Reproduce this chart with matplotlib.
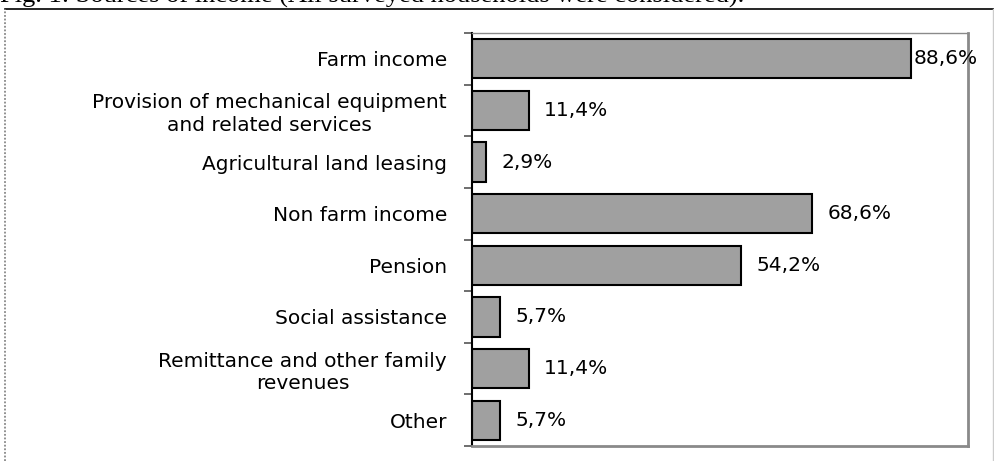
import matplotlib.pyplot as plt
import numpy as np
from matplotlib.lines import Line2D

categories = [
    "Farm income",
    "Provision of mechanical equipment\nand related services",
    "Agricultural land leasing",
    "Non farm income",
    "Pension",
    "Social assistance",
    "Remittance and other family\nrevenues",
    "Other",
]
shares = [88.6, 11.4, 2.9, 68.6, 54.2, 5.7, 11.4, 5.7]
caption = "Fig. 1: Sources of income (All surveyed households were considered)."

W, H = 995, 461
fig = plt.figure(figsize=(W / 100, H / 100), dpi=100)
fig.patch.set_facecolor("white")

# outer chart frame (top solid, left dotted, right faint)
fig.add_artist(Line2D([5 / W, 1], [1 - 9.5 / H] * 2, color="black", lw=1.2))
fig.add_artist(Line2D([5 / W] * 2, [0, 1 - 9.5 / H], color="#888888", lw=1.3, ls=(0, (1, 1))))
fig.add_artist(Line2D([993.5 / W] * 2, [0, 1 - 9.5 / H], color="#cccccc", lw=1))

fig.text(0, 1 - 3 / H, caption, family="Liberation Serif", fontsize=19,
         ha="left", va="baseline")

ax = fig.add_axes([472 / W, 15 / H, 496 / W, 413 / H])
y = np.arange(len(categories))
ax.barh(y, shares, height=0.76, color="#a0a0a0", edgecolor="black", linewidth=1.5)
ax.set_xlim(0, 100)
ax.set_ylim(len(categories) - 0.5, -0.5)

for yi, v in zip(y, shares):
    pad = 1.5 if v > 80 else 11
    ax.annotate(f"{v:.1f}%".replace(".", ","), (v, yi), xytext=(pad, 0),
                textcoords="offset points", va="center", ha="left",
                fontsize=14.5, family="DejaVu Sans", clip_on=False)

ax.set_xticks([])
ax.set_yticks(y)
ax.set_yticklabels(categories, fontsize=14.5, family="DejaVu Sans",
                   multialignment="center", linespacing=1.25)
ax.tick_params(axis="y", which="major", length=0, pad=18)
ax.set_yticks(np.arange(-0.5, len(categories), 1), minor=True)
ax.tick_params(axis="y", which="minor", length=6, width=1.2, color="#555555")

for side in ["top", "right", "bottom"]:
    ax.spines[side].set_color("#8a8a8a")
    ax.spines[side].set_linewidth(2)
ax.spines["top"].set_linewidth(1)
ax.spines["left"].set_color("black")
ax.spines["left"].set_linewidth(1.5)

fig.savefig("out.png", dpi=100)
